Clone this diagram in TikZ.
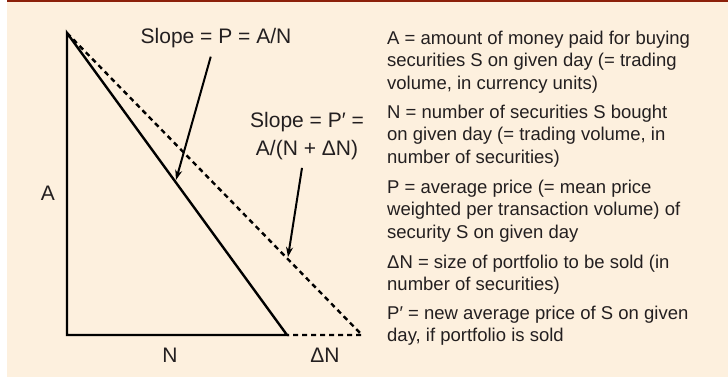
\documentclass[tikz,border=0pt]{standalone}
\usepackage{fontspec}
\setmainfont{Liberation Sans}
\usetikzlibrary{arrows.meta, positioning}

\definecolor{panel}{RGB}{253,240,222}
\definecolor{topline}{RGB}{140,32,10}
\definecolor{ink}{RGB}{35,31,32}

\begin{document}
\begin{tikzpicture}[
		x=1pt, y=-1pt,
		slope/.style={font=\fontsize{21}{28}\selectfont, text=ink, align=center, inner sep=0pt},
		defn/.style={font=\fontsize{18.5}{22.2}\selectfont, text=ink, align=left, anchor=north west, inner sep=0pt},
		side/.style={line width=2.4pt},
		extended/.style={line width=2.4pt, dash pattern=on 5pt off 4pt},
		pointer/.style={->, line width=2pt},
		>={Stealth[length=10pt, width=7pt]}
		]
		
		% Background and the rule on top
		\useasboundingbox (0,0) rectangle (728,377);
		\fill[panel] (7,0) rectangle (728,377);
		\fill[topline] (7,0) rectangle (728,2);
		
		% Corners of the triangles
		\coordinate (top) at (67,33);
		\coordinate (origin) at (67,335);
		\coordinate (nend) at (287,335);
		\coordinate (dnend) at (362,335);
		
		% Where the arrows hit the slopes
		\coordinate (tipP) at (176,180);
		\coordinate (tipPp) at (288,257);
		
		% Triangles
		\draw[extended] (top) -- (dnend) -- (nend);
		\draw[side] (origin) -- (top) -- (nend) -- cycle;
		
		% Labels of the graph
		\node[slope] (slopeP) at (216,38) {Slope = P = A/N};
		\node[slope] (slopePp) at (307,136) {Slope = P′ =\\A/(N + ΔN)};
		\node[slope] (labA) at (48,193) {A};
		\node[slope] (labN) at (170,355) {N};
		\node[slope] (labDN) at (325,355) {ΔN};
		
		% Arrows to the slopes
		\draw[pointer, shorten <=9pt] (slopeP) -- (tipP);
		\draw[pointer, shorten <=8pt] (slopePp) -- (tipPp);
		
		% Definitions on the right
		\node[defn] (defA) at (387,31) {A = amount of money paid for buying\\securities S on given day (= trading\\volume, in currency units)};
		\node[defn] (defN) at (387,105) {N = number of securities S bought\\on given day (= trading volume, in\\number of securities)};
		\node[defn] (defP) at (387,180) {P = average price (= mean price\\weighted per transaction volume) of\\security S on given day};
		\node[defn] (defDN) at (387,255) {ΔN = size of portfolio to be sold (in\\number of securities)};
		\node[defn] (defPp) at (387,306) {P′ = new average price of S on given\\day, if portfolio is sold};
		
	\end{tikzpicture}
\end{document}
